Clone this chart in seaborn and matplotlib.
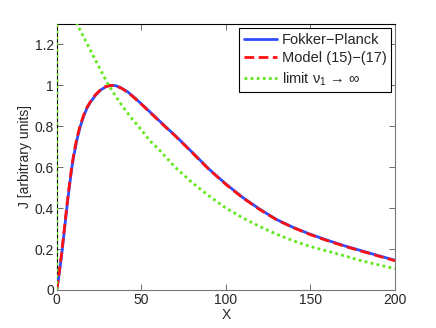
import matplotlib
matplotlib.use('Agg')
import matplotlib.pyplot as plt
import seaborn as sns

# values
fp_x = [0, 1, 2, 3, 4, 5, 6, 7, 8, 9, 10, 12, 14, 16, 18, 20, 23, 26, 29, 32,
        35, 38, 42, 46, 50, 55, 60, 65, 70, 80, 90, 100, 110, 120, 130, 140,
        150, 160, 170, 180, 190, 200]
fp_y = [0, 0.05, 0.11, 0.175, 0.25, 0.325, 0.40, 0.47, 0.535, 0.60, 0.65, 0.735,
        0.80, 0.85, 0.89, 0.918, 0.952, 0.977, 0.993, 1.0, 0.998, 0.988, 0.968,
        0.94, 0.91, 0.871, 0.832, 0.793, 0.755, 0.674, 0.591, 0.518, 0.452,
        0.395, 0.344, 0.305, 0.272, 0.243, 0.216, 0.192, 0.168, 0.145]

model_x = fp_x
model_y = [0, 0.055, 0.12, 0.185, 0.26, 0.335, 0.41, 0.48, 0.545, 0.61, 0.66,
           0.745, 0.807, 0.856, 0.894, 0.921, 0.955, 0.979, 0.994, 1.0, 0.997,
           0.987, 0.966, 0.938, 0.908, 0.869, 0.83, 0.791, 0.753, 0.672, 0.589,
           0.516, 0.45, 0.393, 0.343, 0.304, 0.27, 0.241, 0.214, 0.19, 0.166,
           0.143]

lim_x = [0, 0.3, 2, 5, 8, 12, 16, 20, 25, 30, 35, 40, 45, 50, 55, 60, 70, 80,
         90, 100, 110, 120, 130, 140, 150, 160, 170, 180, 190, 200]
lim_y = [0, 3.0, 1.75, 1.55, 1.40, 1.30, 1.235, 1.17, 1.09, 1.01, 0.945, 0.885,
         0.832, 0.783, 0.73, 0.69, 0.60, 0.525, 0.46, 0.40, 0.352, 0.31, 0.272,
         0.24, 0.212, 0.19, 0.167, 0.143, 0.123, 0.104]

x_ticks = [0, 50, 100, 150, 200]
y_ticks = [0, 0.2, 0.4, 0.6, 0.8, 1.0, 1.2]
y_labels = ['0', '0.2', '0.4', '0.6', '0.8', '1', '1.2']

sns.set_style('white')
plt.rcParams['font.family'] = ['Liberation Sans', 'DejaVu Sans']
plt.rcParams['mathtext.fontset'] = 'custom'
plt.rcParams['mathtext.rm'] = 'Liberation Sans'

fig = plt.figure(figsize=(4.36, 3.28), dpi=100)
ax = fig.add_axes([0.13, 0.116, 0.776, 0.811])

sns.lineplot(x=fp_x, y=fp_y, ax=ax, color='#2f4cff', lw=2, sort=False,
             estimator=None, label='Fokker\u2212Planck')
sns.lineplot(x=model_x, y=model_y, ax=ax, color='#ff1010', lw=2, sort=False,
             estimator=None, label='Model (15)\u2212(17)')
ax.lines[-1].set_dashes([3.5, 1.6])
sns.lineplot(x=lim_x, y=lim_y, ax=ax, color='#5fe81a', lw=2, sort=False,
             estimator=None, label='limit \u03bd$_1$ \u2192 \u221e')
ax.lines[-1].set_linestyle((0, (1, 1.2)))
for ln in ax.lines:
    ln.set_zorder(3)

ax.set_xlim(0, 200)
ax.set_ylim(0, 1.3)
ax.set_xticks(x_ticks)
ax.set_yticks(y_ticks)
ax.set_yticklabels(y_labels)
ax.tick_params(direction='in', length=4, width=0.6, labelsize=10,
               top=True, right=True, bottom=True, left=True, pad=2,
               color='#555555')
ax.set_xlabel('X', fontsize=10, labelpad=1)
ax.set_ylabel('J [arbitrary units]', fontsize=10, labelpad=2)

for side in ['top', 'left']:
    ax.spines[side].set_color('black')
for side in ['bottom', 'right']:
    ax.spines[side].set_color('#777777')
for s in ax.spines.values():
    s.set_linewidth(0.8)

leg = ax.legend(loc='upper right', fontsize=10.5, frameon=True, fancybox=False,
                edgecolor='black', framealpha=1, handlelength=2.3,
                borderaxespad=0.3, borderpad=0.3, labelspacing=0.32,
                handletextpad=0.3)
leg.get_frame().set_linewidth(0.8)
leg.set_zorder(5)

fig.savefig('out.png', dpi=100)
